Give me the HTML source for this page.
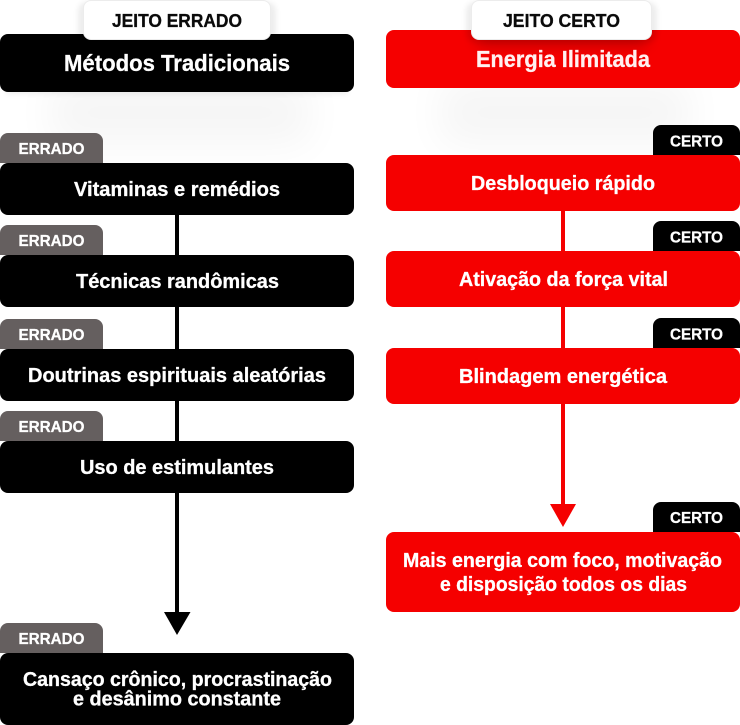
<!DOCTYPE html>
<html lang="pt">
<head>
<meta charset="utf-8">
<title>Jeito errado e jeito certo</title>
<style>
html,body{margin:0;padding:0;background:#fff;width:740px;height:725px;overflow:hidden}
svg{display:block}
text{font-family:"Liberation Sans",sans-serif;font-weight:700;fill:#fff;stroke:#fff;stroke-width:.3px;paint-order:stroke}
</style>
</head>
<body>
<svg width="740" height="725" viewBox="0 0 740 725" xmlns="http://www.w3.org/2000/svg">
<defs>
<filter id="b30" x="-50%" y="-100%" width="200%" height="300%"><feGaussianBlur stdDeviation="20"/></filter>
<filter id="b8" x="-30%" y="-100%" width="160%" height="300%"><feGaussianBlur stdDeviation="7"/></filter>
<filter id="b3" x="-20%" y="-50%" width="140%" height="200%"><feGaussianBlur stdDeviation="3"/></filter>
<clipPath id="cr"><rect x="386" y="30" width="354" height="58" rx="8"/></clipPath>
</defs>

<!-- soft shadows beneath the top boxes -->
<rect x="50" y="80" width="260" height="65" fill="#000" opacity=".035" filter="url(#b30)"/>
<rect x="440" y="80" width="250" height="65" fill="#000" opacity=".035" filter="url(#b30)"/>
<rect x="6" y="60" width="342" height="34" fill="#000" opacity=".07" filter="url(#b3)"/>

<!-- left connector -->
<rect x="175" y="215" width="4" height="398" fill="#000"/>
<polygon points="164,612 190.5,612 177,635" fill="#000"/>

<!-- right connector -->
<rect x="561" y="211" width="4" height="294" fill="#f50000"/>
<polygon points="550,504 576,504 563,527" fill="#f50000"/>

<!-- ERRADO tags -->
<g fill="#655f5f">
<path d="M0 163V141a8 8 0 0 1 8-8H95a8 8 0 0 1 8 8V163Z"/>
<path d="M0 255V233a8 8 0 0 1 8-8H95a8 8 0 0 1 8 8V255Z"/>
<path d="M0 349V327a8 8 0 0 1 8-8H95a8 8 0 0 1 8 8V349Z"/>
<path d="M0 441V419a8 8 0 0 1 8-8H95a8 8 0 0 1 8 8V441Z"/>
<path d="M0 653V631a8 8 0 0 1 8-8H95a8 8 0 0 1 8 8V653Z"/>
</g>

<!-- CERTO tags -->
<g fill="#000">
<path d="M653 155V133a8 8 0 0 1 8-8H732a8 8 0 0 1 8 8V155Z"/>
<path d="M653 251V229a8 8 0 0 1 8-8H732a8 8 0 0 1 8 8V251Z"/>
<path d="M653 348V326a8 8 0 0 1 8-8H732a8 8 0 0 1 8 8V348Z"/>
<path d="M653 532V510a8 8 0 0 1 8-8H732a8 8 0 0 1 8 8V532Z"/>
</g>

<!-- black boxes -->
<g fill="#000">
<rect x="0" y="34" width="354" height="58" rx="8"/>
<rect x="0" y="163" width="354" height="52" rx="8"/>
<rect x="0" y="255" width="354" height="52" rx="8"/>
<rect x="0" y="349" width="354" height="52" rx="8"/>
<rect x="0" y="441" width="354" height="52" rx="8"/>
<rect x="0" y="653" width="354" height="72" rx="8"/>
</g>

<!-- red boxes -->
<g fill="#f50000">
<rect x="386" y="30" width="354" height="58" rx="8"/>
<rect x="386" y="155" width="354" height="56" rx="8"/>
<rect x="386" y="251" width="354" height="56" rx="8"/>
<rect x="386" y="348" width="354" height="56" rx="8"/>
<rect x="386" y="532" width="354" height="80" rx="8"/>
</g>

<!-- pill shadows -->
<g clip-path="url(#cr)"><rect x="476" y="14" width="172" height="32" rx="8" fill="#000" opacity=".2" filter="url(#b8)"/></g>
<rect x="78" y="2" width="198" height="40" rx="9" fill="#000" opacity=".07" filter="url(#b3)"/>
<rect x="466" y="2" width="191" height="40" rx="9" fill="#000" opacity=".07" filter="url(#b3)"/>

<!-- pills -->
<rect x="83.5" y="0.5" width="187" height="39" rx="7.5" fill="#fff" stroke="#ececec"/>
<rect x="471.5" y="0.5" width="180" height="39" rx="7.5" fill="#fff" stroke="#ececec"/>

<!-- text -->
<text x="112" y="27" font-size="18" textLength="130" lengthAdjust="spacingAndGlyphs" style="fill:#0a0a0a;stroke:#0a0a0a">JEITO ERRADO</text>
<text x="503" y="27" font-size="18" textLength="117" lengthAdjust="spacingAndGlyphs" style="fill:#0a0a0a;stroke:#0a0a0a">JEITO CERTO</text>

<text x="64" y="71" font-size="23" textLength="226" lengthAdjust="spacingAndGlyphs">Métodos Tradicionais</text>
<text x="476" y="67" font-size="23" textLength="174" lengthAdjust="spacingAndGlyphs" style="fill:#fff0f0;stroke:#fff0f0">Energia Ilimitada</text>

<g font-size="16" style="stroke-width:.5px">
<text x="18.5" y="154" textLength="66" lengthAdjust="spacingAndGlyphs">ERRADO</text>
<text x="18.5" y="246" textLength="66" lengthAdjust="spacingAndGlyphs">ERRADO</text>
<text x="18.5" y="340" textLength="66" lengthAdjust="spacingAndGlyphs">ERRADO</text>
<text x="18.5" y="432" textLength="66" lengthAdjust="spacingAndGlyphs">ERRADO</text>
<text x="18.5" y="644" textLength="66" lengthAdjust="spacingAndGlyphs">ERRADO</text>
<text x="670" y="146.5" textLength="53" lengthAdjust="spacingAndGlyphs">CERTO</text>
<text x="670" y="242.5" textLength="53" lengthAdjust="spacingAndGlyphs">CERTO</text>
<text x="670" y="339.5" textLength="53" lengthAdjust="spacingAndGlyphs">CERTO</text>
<text x="670" y="523" textLength="53" lengthAdjust="spacingAndGlyphs">CERTO</text>
</g>

<g font-size="20">
<text x="74" y="196" textLength="206" lengthAdjust="spacingAndGlyphs">Vitaminas e remédios</text>
<text x="76" y="288" textLength="203" lengthAdjust="spacingAndGlyphs">Técnicas randômicas</text>
<text x="28" y="382" textLength="298" lengthAdjust="spacingAndGlyphs">Doutrinas espirituais aleatórias</text>
<text x="80" y="474" textLength="194" lengthAdjust="spacingAndGlyphs">Uso de estimulantes</text>
<text x="23" y="686" textLength="309" lengthAdjust="spacingAndGlyphs">Cansaço crônico, procrastinação</text>
<text x="73" y="705.5" textLength="208" lengthAdjust="spacingAndGlyphs">e desânimo constante</text>
<text x="471" y="190" textLength="184" lengthAdjust="spacingAndGlyphs">Desbloqueio rápido</text>
<text x="459" y="286" textLength="209" lengthAdjust="spacingAndGlyphs">Ativação da força vital</text>
<text x="459" y="383" textLength="208" lengthAdjust="spacingAndGlyphs">Blindagem energética</text>
<text x="403" y="567" textLength="319" lengthAdjust="spacingAndGlyphs">Mais energia com foco, motivação</text>
<text x="440" y="591" textLength="247" lengthAdjust="spacingAndGlyphs">e disposição todos os dias</text>
</g>
</svg>
</body>
</html>
